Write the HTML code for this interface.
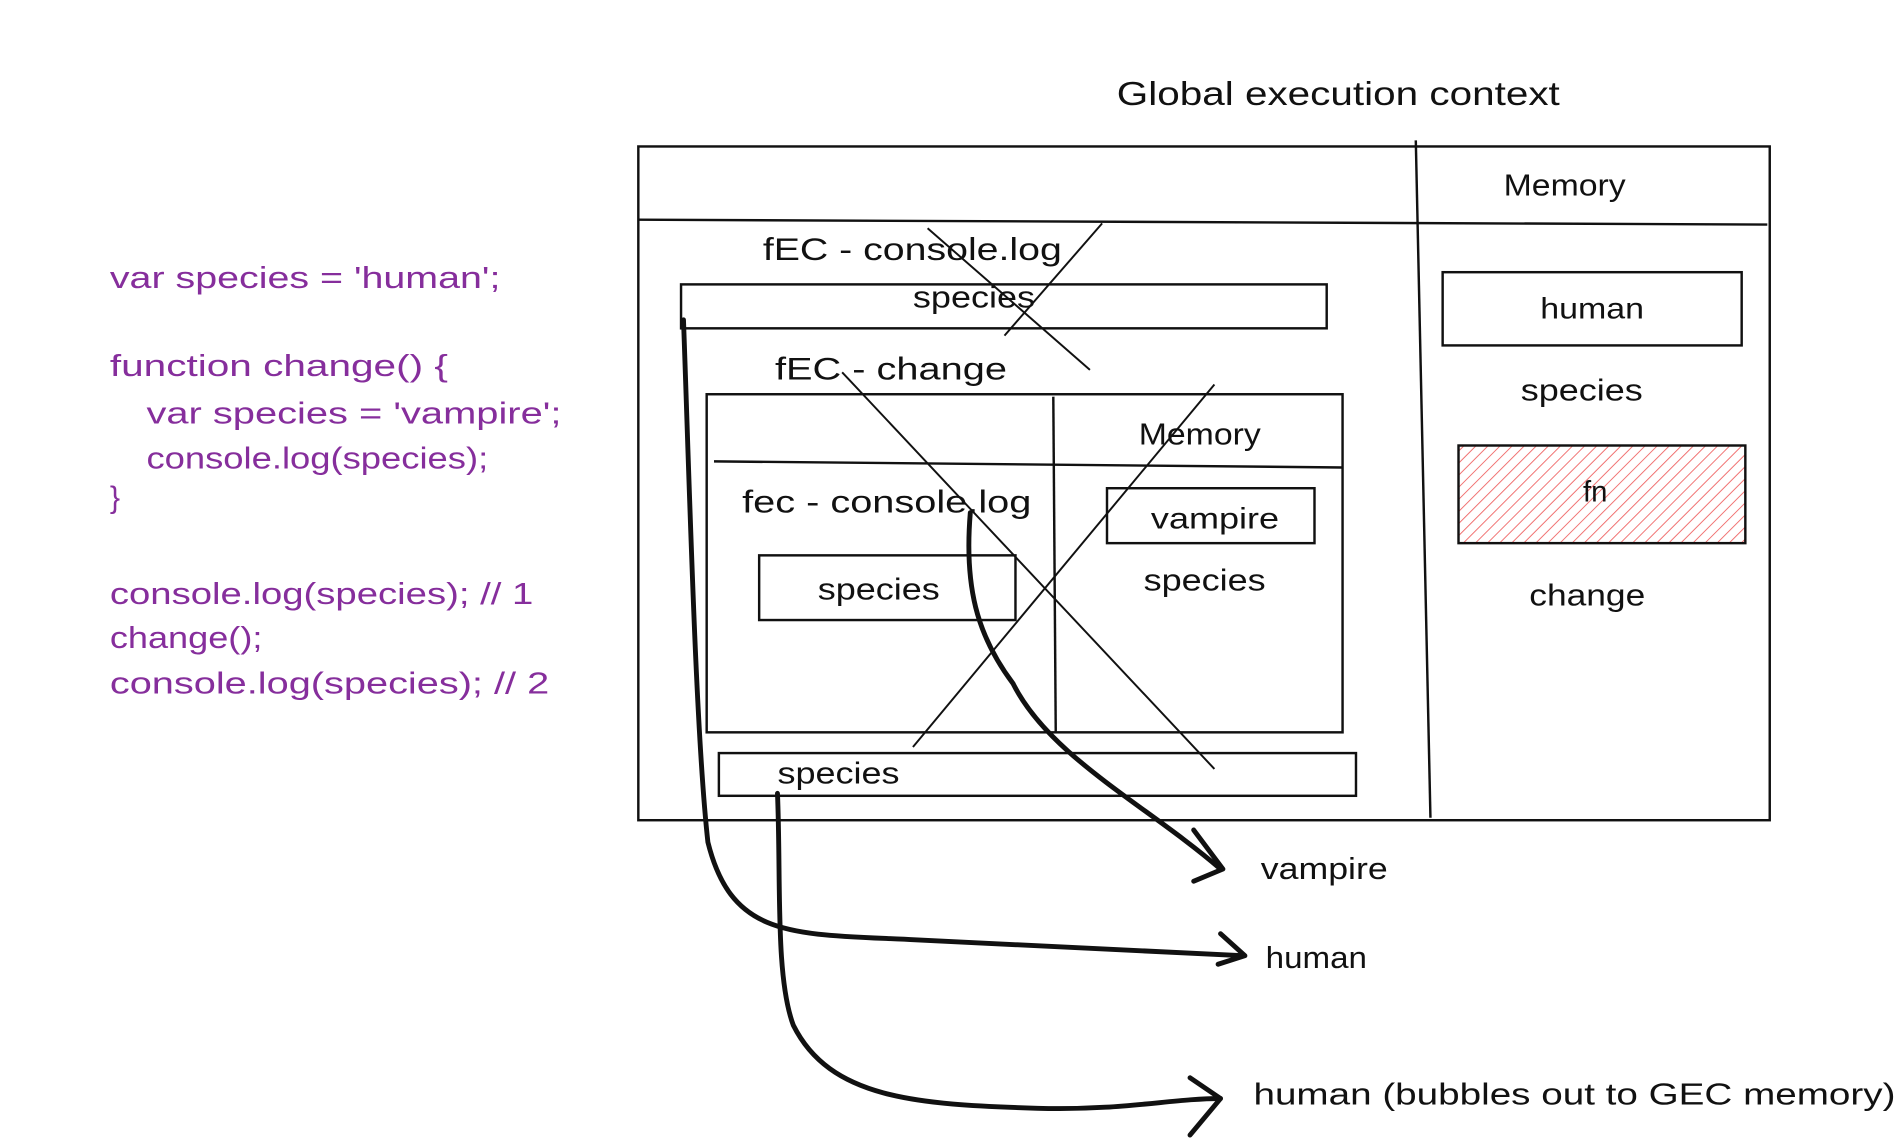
<!DOCTYPE html>
<html><head><meta charset="utf-8"><style>
html,body{margin:0;padding:0;background:#fff;}
svg{display:block;}
text{font-family:"Liberation Sans",sans-serif;fill:#111;}
.c{fill:#862e9c;font-size:25px;}
</style></head><body>
<svg width="1904" height="1140" viewBox="0 0 1560 934" preserveAspectRatio="none" xmlns="http://www.w3.org/2000/svg">
<defs>
<pattern id="h" patternUnits="userSpaceOnUse" width="7" height="7" patternTransform="rotate(45)">
<line x1="0" y1="0" x2="0" y2="7" stroke="#f07070" stroke-width="1.6"/>
</pattern>
</defs>
<g fill="none" stroke="#111" stroke-width="2">
<rect x="523" y="120" width="927" height="552"/>
<line x1="523" y1="180" x2="1448" y2="184"/>
<line x1="1160" y1="115" x2="1172" y2="670"/>
<rect x="1182" y="223" width="245" height="60"/>
<rect x="1195" y="365" width="235" height="80" fill="url(#h)" stroke="#111"/>
<rect x="558" y="233" width="529" height="36"/>
<rect x="579" y="323" width="521" height="277"/>
<line x1="585" y1="378" x2="1100" y2="383"/>
<line x1="863" y1="325" x2="865" y2="600"/>
<rect x="622" y="455" width="210" height="53"/>
<rect x="907" y="400" width="170" height="45"/>
<rect x="589" y="617" width="522" height="35"/>
<line x1="760" y1="187" x2="893" y2="303" stroke-width="1.6"/>
<line x1="903" y1="183" x2="823" y2="275" stroke-width="1.6"/>
<line x1="690" y1="305" x2="995" y2="630" stroke-width="1.6"/>
<line x1="995" y1="315" x2="748" y2="612" stroke-width="1.6"/>
</g>
<g fill="none" stroke="#111" stroke-width="4" stroke-linecap="round" stroke-linejoin="round">
<path d="M795 420 C 790 480, 800 520, 830 560 C 860 620, 940 660, 1000 712"/>
<path d="M978 680 L1002 712 L978 722"/>
<path d="M560 262 C 565 400, 570 600, 580 690 C 600 770, 650 765, 750 770 C 850 775, 950 780, 1018 783"/>
<path d="M1000 765 L1020 783 L998 790"/>
<path d="M637 650 C 640 720, 635 800, 650 840 C 680 900, 750 905, 850 908 C 920 910, 960 900, 1000 900"/>
<path d="M975 883 L1000 900 L975 930"/>
</g>
<g lengthAdjust="spacingAndGlyphs">
<text x="915" y="86" font-size="27" textLength="363" lengthAdjust="spacingAndGlyphs">Global execution context</text>
<text x="1232" y="160" font-size="25" textLength="100" lengthAdjust="spacingAndGlyphs">Memory</text>
<text x="1262" y="261" font-size="24" textLength="85" lengthAdjust="spacingAndGlyphs">human</text>
<text x="1246" y="328" font-size="25" textLength="100" lengthAdjust="spacingAndGlyphs">species</text>
<text x="1297" y="411" font-size="24">fn</text>
<text x="1253" y="496" font-size="25" textLength="95" lengthAdjust="spacingAndGlyphs">change</text>
<text x="625" y="213" font-size="26" textLength="245" lengthAdjust="spacingAndGlyphs">fEC - console.log</text>
<text x="748" y="252" font-size="25" textLength="100" lengthAdjust="spacingAndGlyphs">species</text>
<text x="635" y="311" font-size="26" textLength="190" lengthAdjust="spacingAndGlyphs">fEC - change</text>
<text x="933" y="364" font-size="25" textLength="100" lengthAdjust="spacingAndGlyphs">Memory</text>
<text x="608" y="420" font-size="26" textLength="237" lengthAdjust="spacingAndGlyphs">fec - console.log</text>
<text x="670" y="491" font-size="25" textLength="100" lengthAdjust="spacingAndGlyphs">species</text>
<text x="943" y="433" font-size="24" textLength="105" lengthAdjust="spacingAndGlyphs">vampire</text>
<text x="937" y="484" font-size="25" textLength="100" lengthAdjust="spacingAndGlyphs">species</text>
<text x="637" y="642" font-size="25" textLength="100" lengthAdjust="spacingAndGlyphs">species</text>
<text x="1033" y="720" font-size="25" textLength="104" lengthAdjust="spacingAndGlyphs">vampire</text>
<text x="1037" y="793" font-size="25" textLength="83" lengthAdjust="spacingAndGlyphs">human</text>
<text x="1027" y="905" font-size="25" textLength="526" lengthAdjust="spacingAndGlyphs">human (bubbles out to GEC memory)</text>
<text class="c" x="90" y="236" textLength="320" lengthAdjust="spacingAndGlyphs">var species = 'human';</text>
<text class="c" x="90" y="308" textLength="277" lengthAdjust="spacingAndGlyphs">function change() {</text>
<text class="c" x="120" y="347" textLength="340" lengthAdjust="spacingAndGlyphs">var species = 'vampire';</text>
<text class="c" x="120" y="384" textLength="280" lengthAdjust="spacingAndGlyphs">console.log(species);</text>
<text class="c" x="90" y="416">}</text>
<text class="c" x="90" y="495" textLength="347" lengthAdjust="spacingAndGlyphs">console.log(species); // 1</text>
<text class="c" x="90" y="531" textLength="125" lengthAdjust="spacingAndGlyphs">change();</text>
<text class="c" x="90" y="568" textLength="360" lengthAdjust="spacingAndGlyphs">console.log(species); // 2</text>
</g>
</svg>
</body></html>
